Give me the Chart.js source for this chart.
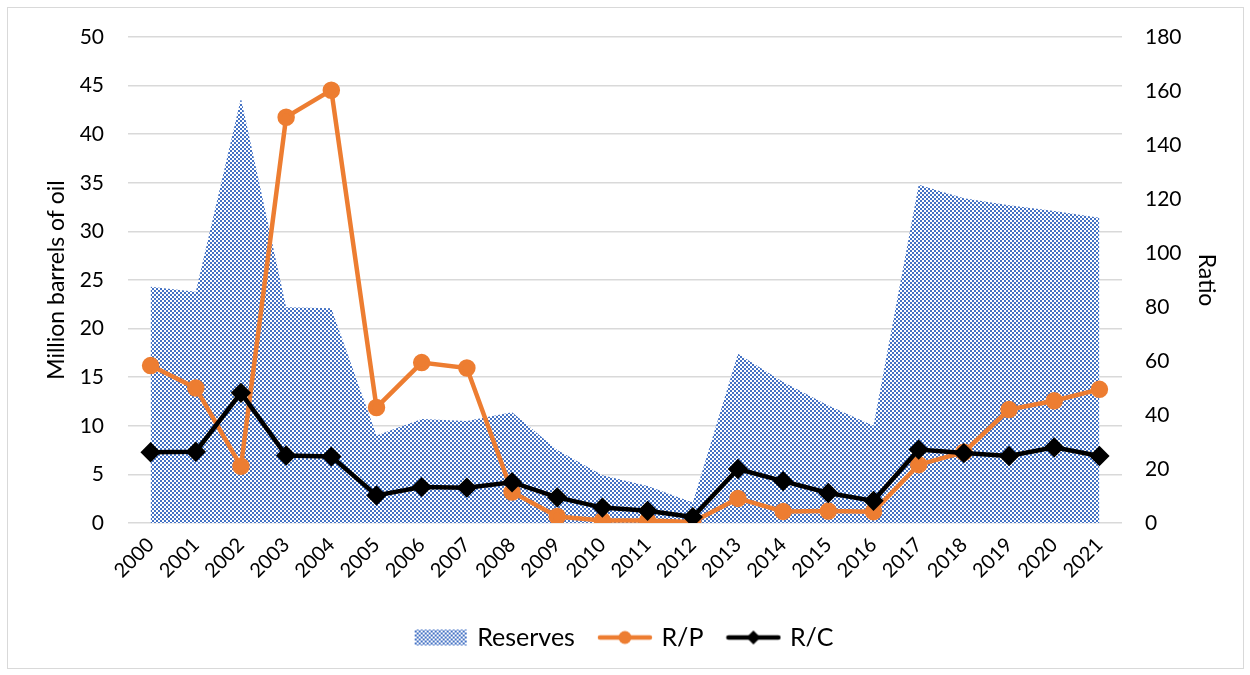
<!DOCTYPE html>
<html>
<head>
<meta charset="utf-8">
<script src="https://cdn.jsdelivr.net/npm/chart.js@4"></script>
<style>
  html, body { margin: 0; padding: 0; background: #fff; }
  #frame { position: absolute; left: 7px; top: 7px; width: 1235px; height: 660px; border: 1px solid #d9d9d9; }
  #wrap { position: absolute; left: 0; top: 0; width: 1250px; height: 675px; }
</style>
</head>
<body>
<div id="frame"></div>
<div id="wrap"><canvas id="chart" width="1250" height="675"></canvas></div>
<script>
//---------------------------------------------
// DATA
//---------------------------------------------
const years = ["2000","2001","2002","2003","2004","2005","2006","2007","2008","2009","2010",
               "2011","2012","2013","2014","2015","2016","2017","2018","2019","2020","2021"];

// million barrels of oil (left axis)
const reserves = [24.3, 23.8, 43.7, 22.2, 22.1, 9.0, 10.7, 10.5, 11.4, 7.5, 4.9,
                  3.8, 2.1, 17.4, 14.5, 12.1, 10.0, 34.8, 33.4, 32.7, 32.1, 31.4];

// ratios (right axis)
const rp = [58.3, 50.0, 21.0, 150.3, 160.3, 42.8, 59.4, 57.4, 11.5, 2.4, 0.9,
            0.9, 0.4, 9.1, 4.3, 4.4, 4.2, 21.6, 26.2, 42.0, 45.3, 49.5];
const rc = [26.2, 26.4, 48.2, 25.0, 24.6, 10.2, 13.3, 13.1, 15.1, 9.5, 5.7,
            4.5, 2.2, 20.0, 15.5, 11.1, 8.2, 27.2, 25.9, 24.8, 28.0, 24.8];

const leftTicks = [0, 5, 10, 15, 20, 25, 30, 35, 40, 45, 50];
const rightTicks = [0, 20, 40, 60, 80, 100, 120, 140, 160, 180];

//---------------------------------------------
// PATTERN + LEGEND ICONS
//---------------------------------------------
const BLUE = "#4472C4";
const ORANGE = "#ED7D31";

function makeChecker() {
    const c = document.createElement("canvas");
    c.width = 4; c.height = 4;
    const g = c.getContext("2d");
    g.fillStyle = "#ffffff";
    g.fillRect(0, 0, 4, 4);
    g.fillStyle = BLUE;
    g.fillRect(0, 0, 2, 2);
    g.fillRect(2, 2, 2, 2);
    return document.createElement("canvas").getContext("2d").createPattern(c, "repeat");
}
const checker = makeChecker();

function patternIcon() {
    const c = document.createElement("canvas");
    c.width = 56; c.height = 18;
    const g = c.getContext("2d");
    g.fillStyle = checker;
    g.fillRect(2, 1, 52, 16);
    return c;
}

function lineIcon(color, marker) {
    const c = document.createElement("canvas");
    c.width = 56; c.height = 18;
    const g = c.getContext("2d");
    g.strokeStyle = color;
    g.lineWidth = 4.5;
    g.lineCap = "round";
    g.beginPath();
    g.moveTo(3, 9); g.lineTo(53, 9);
    g.stroke();
    g.fillStyle = color;
    g.beginPath();
    if (marker === "circle") {
        g.arc(28, 9, 6.5, 0, Math.PI * 2);
    } else {
        g.moveTo(28, 2); g.lineTo(35, 9); g.lineTo(28, 16); g.lineTo(21, 9); g.closePath();
    }
    g.fill();
    return c;
}

const icons = [patternIcon(), lineIcon(ORANGE, "circle"), lineIcon("#000", "diamond")];

//---------------------------------------------
// CHART
//---------------------------------------------
const FONT = "Lato, 'Open Sans', sans-serif";

new Chart(document.getElementById("chart"), {
    type: "line",
    data: {
        labels: years,
        datasets: [
            { label: "Reserves", data: reserves, yAxisID: "y", fill: "origin",
              backgroundColor: checker, borderWidth: 0, pointRadius: 0, tension: 0, order: 3 },
            { label: "R/P", data: rp, yAxisID: "y1", borderColor: ORANGE, backgroundColor: ORANGE,
              borderWidth: 4.5, pointStyle: "circle", pointRadius: 6.5, tension: 0, fill: false, order: 2 },
            { label: "R/C", data: rc, yAxisID: "y1", borderColor: "#000", backgroundColor: "#000",
              borderWidth: 4.5, pointStyle: "rectRot", pointRadius: 7, tension: 0, fill: false, order: 1 }
        ]
    },
    options: {
        responsive: false,
        animation: false,
        layout: { padding: { left: 10, right: 10, top: 37, bottom: 15 } },
        plugins: {
            tooltip: { enabled: false },
            legend: {
                position: "bottom",
                labels: {
                    font: { family: FONT, size: 25 },
                    color: "#000",
                    usePointStyle: true,
                    pointStyleWidth: 48,
                    boxHeight: 18,
                    padding: 26,
                    generateLabels: chart => chart.data.datasets.map((d, i) => ({
                        text: d.label,
                        pointStyle: icons[i],
                        datasetIndex: i,
                        lineWidth: 0,
                        fontColor: "#000"
                    }))
                }
            }
        },
        scales: {
            x: {
                offset: true,
                grid: { display: false },
                border: { display: false },
                ticks: { font: { family: FONT, size: 20 }, color: "#000", maxRotation: 45, minRotation: 45, padding: 2 },
                afterFit: s => { s.height = 76; }
            },
            y: {
                position: "left",
                min: 0, max: 50,
                afterBuildTicks: s => { s.ticks = leftTicks.map(v => ({ value: v })); },
                grid: { color: "#d9d9d9", lineWidth: 1.5, drawTicks: false },
                border: { display: false },
                ticks: { font: { family: FONT, size: 21 }, color: "#000", padding: 24 },
                title: { display: true, text: "Million barrels of oil", font: { family: FONT, size: 23 }, color: "#000", padding: { top: 33, bottom: 0 } },
                afterFit: s => { s.width = 118; }
            },
            y1: {
                position: "right",
                min: 0, max: 180,
                afterBuildTicks: s => { s.ticks = rightTicks.map(v => ({ value: v })); },
                grid: { display: false, drawTicks: false },
                border: { display: false },
                ticks: { font: { family: FONT, size: 21 }, color: "#000", padding: 23 },
                title: { display: true, text: "Ratio", font: { family: FONT, size: 23 }, color: "#000", padding: { top: 20, bottom: 0 } },
                afterFit: s => { s.width = 118; }
            }
        }
    }
});
</script>
</body>
</html>
